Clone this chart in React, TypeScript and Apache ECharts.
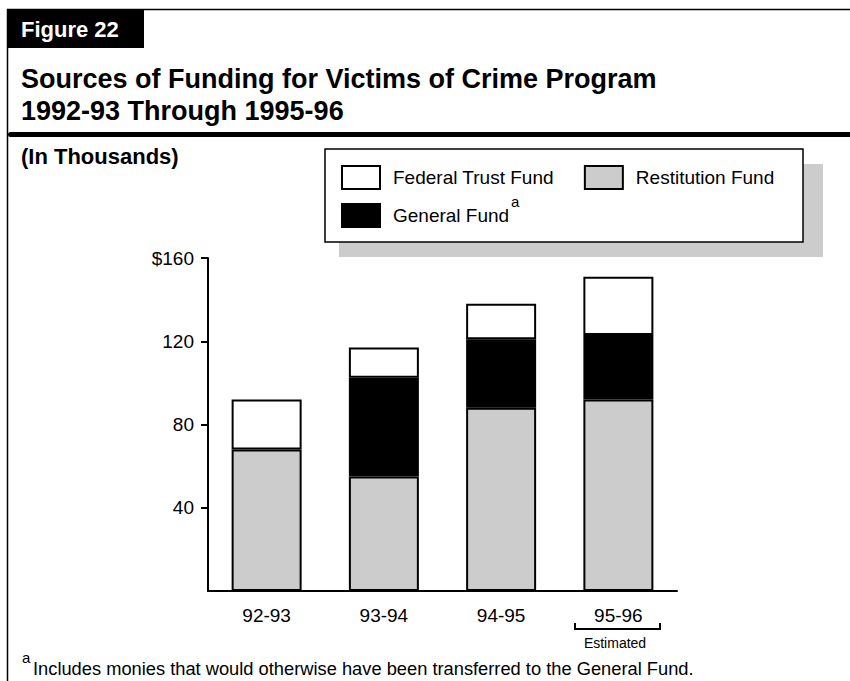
import React, { useEffect, useRef } from "react";
import * as echarts from "echarts";

const categories = ["92-93", "93-94", "94-95", "95-96"];
const restitutionFund = [68, 55, 88, 92];
const generalFund = [null, 47.5, 33, 31];
const federalTrustFund = [24, 14.5, 17, 28];
const yTicks = [40, 80, 120, 160];

const FONT = "'Liberation Sans', Arial, Helvetica, sans-serif";

export default function App() {
  const ref = useRef<HTMLDivElement>(null);
  useEffect(() => {
    if (!ref.current) return;
    const chart = echarts.init(ref.current, null, { renderer: "svg" });
    const barBase = { type: "bar", stack: "total", barWidth: 70 };
    chart.setOption({
      animation: false,
      textStyle: { fontFamily: FONT },
      grid: { left: 208, top: 258, width: 469, height: 333, containLabel: false },
      xAxis: {
        type: "category",
        data: categories,
        axisLine: { lineStyle: { color: "#000", width: 2 } },
        axisTick: { show: false },
        axisLabel: { color: "#000", fontSize: 19, fontFamily: FONT, margin: 15 },
      },
      yAxis: {
        type: "value",
        min: 0,
        max: 160,
        interval: 40,
        splitLine: { show: false },
        axisLine: { show: true, lineStyle: { color: "#000", width: 2 } },
        axisTick: { show: true, length: 7, lineStyle: { color: "#000", width: 2 }, customValues: yTicks },
        axisLabel: {
          color: "#000",
          fontSize: 19,
          fontFamily: FONT,
          margin: 14,
          customValues: yTicks,
          formatter: (v: number) => (v === 160 ? "$" + v : String(v)),
        },
      },
      legend: [
        {
          data: ["Federal Trust Fund", "Restitution Fund"],
          left: 341,
          top: 165,
          itemWidth: 38,
          itemHeight: 23,
          itemGap: 30,
          icon: "rect",
          textStyle: { fontSize: 19, color: "#000", fontFamily: FONT, padding: [0, 0, 0, 8] },
          padding: 0,
          selectedMode: false,
        },
        {
          data: ["General Fund"],
          left: 341,
          top: 203,
          itemWidth: 38,
          itemHeight: 23,
          icon: "rect",
          textStyle: { fontSize: 19, color: "#000", fontFamily: FONT, padding: [0, 0, 0, 8] },
          padding: 0,
          selectedMode: false,
        },
      ],
      series: [
        {
          ...barBase,
          name: "Restitution Fund",
          data: restitutionFund,
          itemStyle: { color: "#cccccc", borderColor: "#000", borderWidth: 2 },
        },
        {
          ...barBase,
          name: "General Fund",
          data: generalFund,
          itemStyle: { color: "#000000", borderColor: "#000", borderWidth: 2 },
        },
        {
          ...barBase,
          name: "Federal Trust Fund",
          data: federalTrustFund,
          itemStyle: { color: "#ffffff", borderColor: "#000", borderWidth: 2 },
        },
      ],
      graphic: [
        { type: "line", shape: { x1: 7, y1: 9.5, x2: 850, y2: 9.5 }, style: { stroke: "#000", lineWidth: 1.5 } },
        { type: "line", shape: { x1: 7.5, y1: 9, x2: 7.5, y2: 681 }, style: { stroke: "#000", lineWidth: 1.5 } },
        { type: "rect", shape: { x: 7, y: 10, width: 137, height: 38 }, style: { fill: "#000" } },
        {
          type: "text",
          x: 21,
          y: 29,
          style: { text: "Figure 22", fill: "#fff", font: `bold 22px ${FONT}`, textVerticalAlign: "middle" },
        },
        {
          type: "text",
          x: 21,
          y: 79,
          style: { text: "Sources of Funding for Victims of Crime Program", fill: "#000", font: `bold 27px ${FONT}`, textVerticalAlign: "middle" },
        },
        {
          type: "text",
          x: 21,
          y: 111,
          style: { text: "1992-93 Through 1995-96", fill: "#000", font: `bold 27px ${FONT}`, textVerticalAlign: "middle" },
        },
        { type: "rect", shape: { x: 8, y: 132, width: 842, height: 5, r: [2.5, 0, 0, 2.5] }, style: { fill: "#000" } },
        {
          type: "text",
          x: 21,
          y: 156,
          style: { text: "(In Thousands)", fill: "#000", font: `bold 22px ${FONT}`, textVerticalAlign: "middle" },
        },
        { type: "rect", shape: { x: 339, y: 164, width: 484, height: 93 }, style: { fill: "#cccccc" } },
        { type: "rect", shape: { x: 325, y: 149, width: 478, height: 93 }, style: { fill: "#fff", stroke: "#000", lineWidth: 1.5 } },
        {
          type: "text",
          x: 511,
          y: 201,
          z: 10,
          style: { text: "a", fill: "#000", font: `15px ${FONT}`, textVerticalAlign: "middle" },
        },
        {
          type: "polyline",
          shape: { points: [[575, 623], [575, 629], [660, 629], [660, 623]] },
          style: { stroke: "#000", lineWidth: 2, fill: null },
        },
        {
          type: "text",
          x: 615,
          y: 643,
          style: { text: "Estimated", fill: "#000", font: `14px ${FONT}`, textAlign: "center", textVerticalAlign: "middle" },
        },
        {
          type: "text",
          x: 22,
          y: 657,
          style: { text: "a", fill: "#000", font: `15px ${FONT}`, textVerticalAlign: "middle" },
        },
        {
          type: "text",
          x: 33,
          y: 668,
          style: {
            text: "Includes monies that would otherwise have been transferred to the General Fund.",
            fill: "#000",
            font: `18.3px ${FONT}`,
            textVerticalAlign: "middle",
          },
        },
      ],
    });
    return () => chart.dispose();
  }, []);
  return <div ref={ref} style={{ position: "fixed", left: 0, top: 0, width: 850, height: 681, background: "#fff" }} />;
}
